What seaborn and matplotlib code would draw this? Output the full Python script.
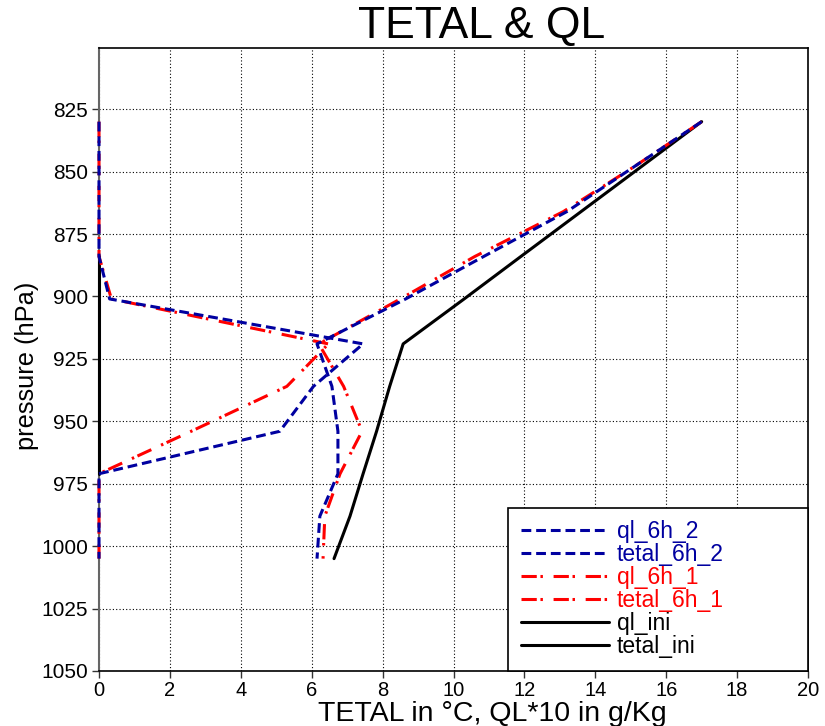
import numpy as np
import pandas as pd
import matplotlib
matplotlib.use("Agg")
import matplotlib.pyplot as plt
import seaborn as sns

# ---- data ----
levels = [830, 848, 866, 884, 901, 919, 936, 954, 971, 988, 1005]
ql_6h_2 = [0, 0, 0, 0, 0.30, 7.45, 6.05, 5.10, 0, 0, 0]
tetal_6h_2 = [17.0, 15.1, 13.2, 10.85, 8.65, 6.15, 6.57, 6.74, 6.74, 6.23, 6.15]
ql_6h_1 = [0, 0, 0, 0, 0.35, 6.47, 5.30, 2.60, 0, 0, 0]
tetal_6h_1 = [17.0, 15.1, 13.1, 10.6, 8.5, 6.2, 6.9, 7.42, 6.8, 6.37, 6.32]
ql_ini = [np.nan, np.nan, np.nan, 0, 0, 0, 0, 0, 0, np.nan, np.nan]
tetal_ini = [17.0, 15.3, 13.6, 11.9, 10.3, 8.58, 8.2, 7.83, 7.45, 7.08, 6.63]

series_names = ["ql_6h_2", "tetal_6h_2", "ql_6h_1", "tetal_6h_1", "ql_ini", "tetal_ini"]
series_values = [ql_6h_2, tetal_6h_2, ql_6h_1, tetal_6h_1, ql_ini, tetal_ini]
x_ticks = [0, 2, 4, 6, 8, 10, 12, 14, 16, 18, 20]
y_ticks = [825, 850, 875, 900, 925, 950, 975, 1000, 1025, 1050]

BLUE = "#0000a0"
RED = "#ff0000"
BLACK = "#000000"
colors = {"ql_6h_2": BLUE, "tetal_6h_2": BLUE, "ql_6h_1": RED, "tetal_6h_1": RED,
          "ql_ini": BLACK, "tetal_ini": BLACK}
styles = {"ql_6h_2": (0, (3.2, 1.6)), "tetal_6h_2": (0, (3.2, 1.6)),
          "ql_6h_1": (0, (5.0, 1.2, 0.8, 3.5)), "tetal_6h_1": (0, (5.0, 1.2, 0.8, 3.5)),
          "ql_ini": "-", "tetal_ini": "-"}

sns.set_theme(style="white")
plt.rcParams["font.family"] = ["Liberation Sans", "DejaVu Sans"]
plt.rcParams["text.color"] = "black"
plt.rcParams["xtick.color"] = "black"
plt.rcParams["ytick.color"] = "black"

fig = plt.figure(figsize=(8.25, 7.26), dpi=100)
ax = fig.add_axes([99/825, 1-671/726, (808-99)/825, (671-48)/726])

draw_order = ["ql_ini", "tetal_ini", "ql_6h_1", "tetal_6h_1", "ql_6h_2", "tetal_6h_2"]
handles = {}
for name in draw_order:
    vals = series_values[series_names.index(name)]
    df = pd.DataFrame({"x": vals, "p": levels}).dropna()
    sns.lineplot(data=df, x="x", y="p", sort=False, estimator=None, ax=ax,
                 color=colors[name], linewidth=2.2, label=name)
    line = ax.get_lines()[-1]
    line.set_linestyle(styles[name])
    line.set_clip_on(False)
    line.set_zorder(3)
    handles[name] = line

ax.set_xlim(0, 20)
ax.set_ylim(1050, 800.5)
ax.set_xticks(x_ticks)
ax.set_yticks(y_ticks)
ax.tick_params(axis="both", which="major", direction="out", length=5, width=1,
               labelsize=15, pad=3, color="#333333", labelcolor="black",
               bottom=True, left=True)
ax.tick_params(axis="x", labelsize=14.5, pad=2)
for s in ["top", "right", "bottom"]:
    ax.spines[s].set_color("black")
    ax.spines[s].set_linewidth(1.2)
ax.spines["left"].set_color("#666666")
ax.spines["left"].set_linewidth(1.5)
ax.grid(True, color="black", linestyle=(0, (1, 2)), linewidth=0.8)
ax.set_xlabel("")
ax.set_ylabel("")

leg = ax.legend([handles[n] for n in series_names], series_names,
                loc="lower left", bbox_to_anchor=(0.5769, 0.0, 0.4231, 0.26),
                mode="expand", fontsize=16.5, frameon=True, fancybox=False,
                edgecolor="black", framealpha=1, borderaxespad=0,
                handlelength=3.85, handletextpad=0.35, labelspacing=0.0,
                borderpad=0.55)
leg.get_frame().set_linewidth(1.2)
leg.set_zorder(5)
for txt, n in zip(leg.get_texts(), series_names):
    txt.set_color(colors[n])

fig.text(482/825, 1-38/726, "TETAL & QL", fontsize=32, ha="center", va="baseline")
fig.text(492/825, 1-721/726, "TETAL in °C, QL*10 in g/Kg", fontsize=20.5,
         ha="center", va="baseline")
fig.text(27/825, 1-366/726, "pressure (hPa)", fontsize=18.3, rotation=90,
         ha="center", va="center")

fig.savefig("out.png", dpi=100)
